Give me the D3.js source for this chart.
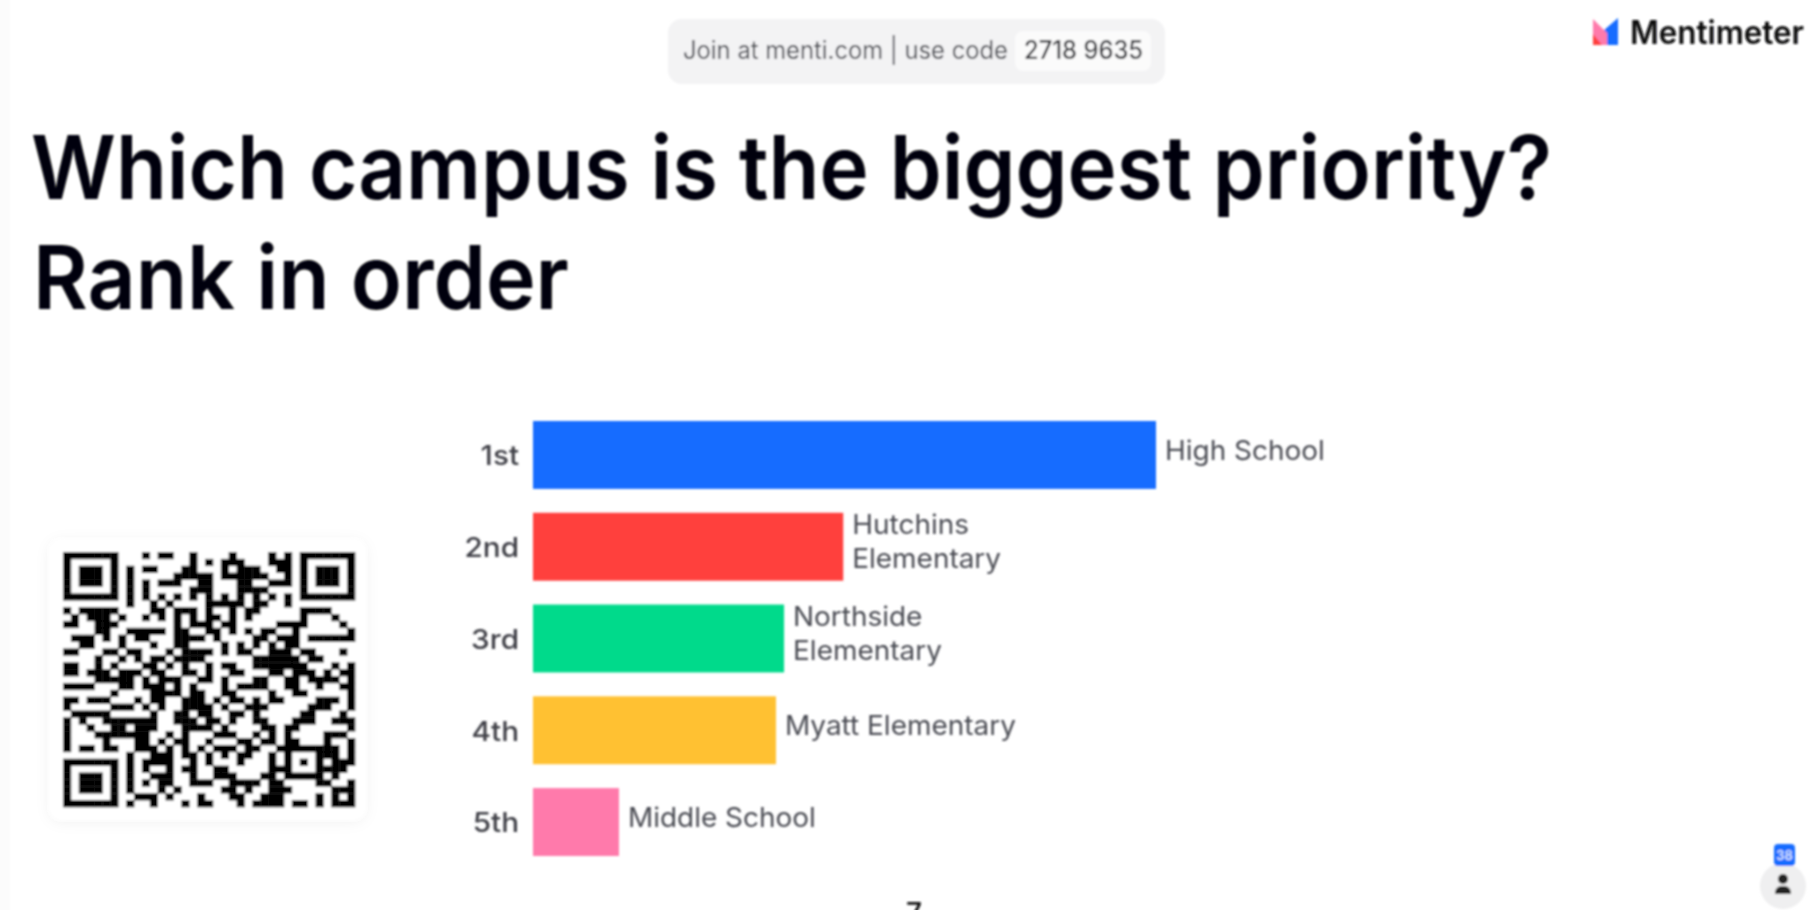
<!DOCTYPE html>
<html>
<head>
<meta charset="utf-8">
<script src="https://cdnjs.cloudflare.com/ajax/libs/d3/7.8.5/d3.min.js"></script>
<style>
  html, body { margin: 0; padding: 0; background: #fff; overflow: hidden; }
  text { font-family: Inter, "Noto Sans", sans-serif; }
</style>
</head>
<body>
<div id="chart"></div>
<script>
const width = 1809;
const height = 910;

// Chart values (bar length as a share of the longest bar)
const ranks = ['1st', '2nd', '3rd', '4th', '5th'];
const campuses = [['High School'], ['Hutchins', 'Elementary'], ['Northside', 'Elementary'], ['Myatt Elementary'], ['Middle School']];
const scores = [100, 49.8, 40.3, 39, 13.8];
const barColors = ['#196cff', '#ff403d', '#00da8b', '#ffc131', '#ff7aab'];
const titleLines = ['Which campus is the biggest priority?', 'Rank in order'];
const joinText = 'Join at menti.com | use code';
const joinCode = '2718 9635';
const brandName = 'Mentimeter';
const voterCount = '38';

// Dark QR modules per row (column numbers); the finder squares are added below
const qrRows = [
  [10,12,13,16,21,26,28],
  [16,18,20,21,22,26,27,28],
  [8,10,11,15,16,20,22,23,24,27,28],
  [8,14,15,16,17,18,20,21,22,23,24,25,28],
  [8,10,12,13,14,17,18,22,23,26,27,28],
  [8,10,16,17,18,22,23,24,25],
  [8,10,12,14,16,18,20,22,24,26,28],
  [8,11,13,18,19,20,21,22,24,25,28],
  [0,2,3,4,5,6,11,12,14,15,16,18,21,23,24,30,31,32,33],
  [1,3,4,5,7,10,12,14,16,18,19,21,23,30,34],
  [0,1,4,5,6,14,16,17,18,20,21,27,28,29,30,35],
  [4,5,8,9,10,11,12,14,15,18,19,21,23,25,26,29,36],
  [1,2,3,5,7,9,10,14,15,16,17,19,24,25,27,28,29,31,32,33,34,35,36],
  [2,3,7,11,14,15,20,22,24,26,28,29],
  [0,1,5,6,8,9,13,15,16,17,18,20,22,23,26,27,28,30,31,35],
  [4,7,9,11,12,14,15,16,17,24,25,26,27,28,29,31,32],
  [0,1,4,6,10,11,13,15,18,20,21,24,25,26,27,28,29,30,34,36],
  [0,1,3,4,5,7,8,9,11,12,15,16,18,21,22,26,27,29,30,31,33,35,36],
  [4,5,6,7,8,10,12,13,14,17,18,20,24,25,28,29,31,32,33,34,36],
  [0,1,2,3,7,8,10,11,12,14,16,20,22,23,24,25,28,29,32,35,36],
  [6,11,12,13,14,16,17,20,21,26,29,30,36],
  [0,1,3,4,5,9,11,12,15,16,17,19,21,22,24,26,27,32,33,34,36],
  [0,6,7,8,10,12,15,16,17,18,20,23,24,25,31,32,33,36],
  [1,2,3,4,5,11,14,15,17,18,21,22,24,30,31,35],
  [0,2,5,6,7,8,9,10,11,14,15,16,18,19,21,24,25,29,30,31,34,35,36],
  [0,3,6,7,9,10,11,15,16,17,18,20,25,26,28,29,36],
  [0,4,5,6,7,8,9,10,13,15,19,20,21,24,26,28,33,34,35],
  [0,5,9,10,12,14,15,18,22,23,25,26,28,29,33,36],
  [0,2,3,5,6,9,10,11,13,15,17,19,20,21,23,24,27,28,29,30,31,32,33,34,36],
  [8,11,12,13,15,16,18,20,22,23,26,28,32,33,34,36],
  [8,10,11,12,13,16,18,22,26,28,30,32,34,35,36],
  [8,10,13,15,16,19,20,26,27,28,32,33,34,35],
  [8,11,12,13,16,19,20,21,25,26,28,29,30,31,32,34],
  [8,10,12,13,16,17,18,21,22,23,24,26,27,32,33,36],
  [8,12,14,20,21,23,26,27,28,34,35,36],
  [9,10,11,13,17,21,22,25,26,27,32,34,36],
  [8,11,15,17,18,22,24,25,26,27,29,30,32,34,35,36]
];

const svg = d3
  .select('#chart')
  .append('svg')
  .attr('width', width)
  .attr('height', height)
  .style('display', 'block');

const defs = svg.append('defs');
defs.append('filter').attr('id', 'soft').attr('x', '-5%').attr('y', '-5%').attr('width', '110%').attr('height', '110%')
  .append('feGaussianBlur').attr('stdDeviation', 1.1);
defs.append('filter').attr('id', 'cardShadow').attr('x', '-10%').attr('y', '-10%').attr('width', '120%').attr('height', '120%')
  .append('feDropShadow').attr('dx', 0).attr('dy', 2).attr('stdDeviation', 7).attr('flood-color', '#000').attr('flood-opacity', 0.06);

const page = svg.append('g').attr('filter', 'url(#soft)');

// The screenshot is wider than it is tall, so text gets squeezed to its measured width
function fit(sel, w) {
  sel.attr('textLength', w).attr('lengthAdjust', 'spacingAndGlyphs');
  return sel;
}

function stretch(sel, k) {
  sel.each(function () {
    d3.select(this)
      .attr('textLength', this.getComputedTextLength() * k)
      .attr('lengthAdjust', 'spacingAndGlyphs');
  });
}

// Faint strip down the left edge of the screenshot
page.append('rect').attr('x', -4).attr('y', -4).attr('width', 14).attr('height', height + 8).attr('fill', '#fcfcfc');

// Join bar
page.append('rect').attr('x', 668).attr('y', 19).attr('width', 497).attr('height', 65).attr('rx', 14).attr('fill', '#f3f3f4');
page.append('rect').attr('x', 1015).attr('y', 31).attr('width', 136).attr('height', 40).attr('rx', 8).attr('fill', '#fbfbfb');
page.append('text').attr('x', 683).attr('y', 59).attr('font-size', 25).attr('fill', '#4a4b52').text(joinText).call(fit, 325);
page.append('text').attr('x', 1024).attr('y', 59).attr('font-size', 25).attr('font-weight', 500).attr('fill', '#2d2e34').text(joinCode).call(fit, 119);

// Brand
const logo = page.append('g').attr('transform', 'translate(1592,18)');
logo.append('path').attr('d', 'M26 0V27H11V13Z').attr('fill', '#196cff');
logo.append('path').attr('d', 'M1 1L15 15V27H1Z').attr('fill', '#ff7aab');
logo.append('path').attr('d', 'M1 16L10 27H1Z').attr('fill', '#ff403d');
page.append('text').attr('x', 1630).attr('y', 44).attr('font-size', 32).attr('font-weight', 600).attr('fill', '#0c0c0e').text(brandName).call(fit, 174);

// Title
page.append('text').attr('x', 31).attr('y', 199).attr('font-size', 88).attr('font-weight', 600).attr('fill', '#050507').text(titleLines[0]).call(fit, 1521);
page.append('text').attr('x', 33).attr('y', 309).attr('font-size', 88).attr('font-weight', 600).attr('fill', '#050507').text(titleLines[1]).call(fit, 536);

// QR card
page.append('rect').attr('x', 49).attr('y', 539).attr('width', 317).attr('height', 281).attr('rx', 14).attr('fill', '#fff').attr('filter', 'url(#cardShadow)');

const qrIndex = d3.range(37);
const qrX = d3.scaleBand().domain(qrIndex).range([63, 355]);
const qrY = d3.scaleBand().domain(qrIndex).range([552, 807]);

function finderCell(r, c) {
  const dr = Math.max(r - 3, 3 - r);
  const dc = Math.max(c - 3, 3 - c);
  const ring = Math.max(dr, dc);
  return ring === 3 || ring <= 1;
}

const qrCells = [];
qrIndex.forEach((r) => {
  qrIndex.forEach((c) => {
    const inTL = r < 8 && c < 8;
    const inTR = r < 8 && c > 28;
    const inBL = r > 28 && c < 8;
    let dark = qrRows[r].includes(c);
    if (inTL) dark = r < 7 && c < 7 && finderCell(r, c);
    if (inTR) dark = r < 7 && c > 29 && finderCell(r, c - 30);
    if (inBL) dark = r > 29 && c < 7 && finderCell(r - 30, c);
    if (dark) qrCells.push({ r, c });
  });
});

page.append('g')
  .selectAll('rect')
  .data(qrCells)
  .enter()
  .append('rect')
  .attr('x', (d) => qrX(d.c))
  .attr('y', (d) => qrY(d.r))
  .attr('width', qrX.bandwidth() + 0.3)
  .attr('height', qrY.bandwidth() + 0.3)
  .attr('fill', '#000');

// Bars
const xScale = d3.scaleLinear().domain([0, 100]).range([533, 1156]);
const yScale = d3.scaleBand().domain(ranks).range([421, 856]).paddingInner(0.26);

const data = ranks.map((rank, i) => ({ rank, lines: campuses[i], score: scores[i], color: barColors[i] }));

page.append('g')
  .selectAll('rect')
  .data(data)
  .enter()
  .append('rect')
  .attr('x', xScale(0))
  .attr('y', (d) => yScale(d.rank))
  .attr('width', (d) => xScale(d.score) - xScale(0))
  .attr('height', yScale.bandwidth())
  .attr('fill', (d) => d.color);

const axis = page.append('g')
  .attr('transform', `translate(${xScale(0)},0)`)
  .call(d3.axisLeft(yScale).tickSize(0).tickPadding(14));
axis.select('.domain').remove();
axis.selectAll('text')
  .attr('font-size', 27)
  .attr('font-weight', 500)
  .attr('dy', '0.38em')
  .style('font-family', 'Inter, "Noto Sans", sans-serif')
  .attr('fill', '#3f4047')
  .call(stretch, 1.1);

// Campus names sit just right of each bar; one-line names ride a little above the middle
const labels = page.append('g')
  .selectAll('text')
  .data(data)
  .enter()
  .append('text')
  .attr('y', (d) => yScale(d.rank) + yScale.bandwidth() / 2 + (d.lines.length > 1 ? -13 : 5))
  .attr('font-size', 27)
  .attr('fill', '#4a4b52');

labels.selectAll('tspan')
  .data((d) => d.lines.map((line) => ({ line, d })))
  .enter()
  .append('tspan')
  .attr('x', (t) => xScale(t.d.score) + 9)
  .attr('dy', (t, i) => (i ? 34 : 0))
  .attr('textLength', function () { return null; })
  .text((t) => t.line)
  .each(function () {
    d3.select(this)
      .attr('textLength', this.getComputedTextLength() * 1.035)
      .attr('lengthAdjust', 'spacingAndGlyphs');
  });

// Clipped page number at the bottom edge
page.append('text').attr('x', 906).attr('y', 923).attr('font-size', 28).attr('font-weight', 500).attr('fill', '#111').text('7');

// Voter badge
page.append('circle').attr('cx', 1783).attr('cy', 886).attr('r', 23).attr('fill', '#efeff0');
page.append('rect').attr('x', 1774).attr('y', 844).attr('width', 21).attr('height', 22).attr('rx', 4).attr('fill', '#196cff');
page.append('text').attr('x', 1784.5).attr('y', 860).attr('text-anchor', 'middle').attr('font-size', 13).attr('font-weight', 600).attr('fill', '#dfe9ff').text(voterCount);
page.append('circle').attr('cx', 1783).attr('cy', 879).attr('r', 5).attr('fill', '#222');
page.append('path').attr('d', 'M1775 894C1775 887 1779 886 1783 886C1787 886 1791 887 1791 894Z').attr('fill', '#222');
</script>
</body>
</html>
